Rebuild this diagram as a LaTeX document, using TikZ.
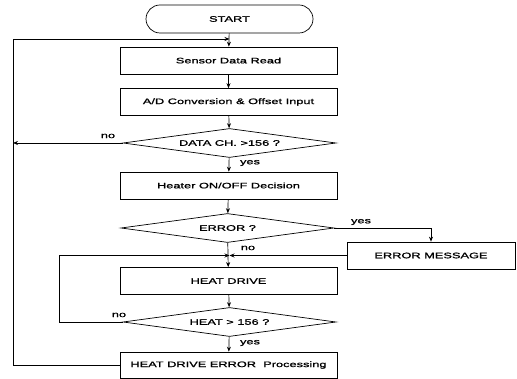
\documentclass[tikz,border=0pt]{standalone}
\usepackage{fontspec}
\usepackage{tikz}
\usetikzlibrary{shapes}
\usetikzlibrary{arrows.meta}
\newfontfamily\flowfont[FakeStretch=1.6, FakeBold=1.3]{Liberation Sans}
\tikzset{ proc_box/.style = {rectangle, draw, minimum width=217pt, minimum height=27pt, inner sep=0pt, align=center} }
\tikzset{ cond_box/.style = {diamond, draw, aspect=7, minimum width=213pt, minimum height=29pt, inner sep=0pt} }
\tikzset{ term_box/.style = {rounded rectangle, draw, minimum width=167pt, minimum height=28pt, inner sep=0pt} }
\tikzset{ lbl/.style = {inner sep=0pt} }

\begin{document}
\begin{tikzpicture}[x=1pt, y=-1pt, line width=0.7pt, >={Stealth[length=5pt,width=4pt]},
        every node/.style={font=\flowfont\fontsize{8}{9}\selectfont}]
                \useasboundingbox (0,0) rectangle (517,379);
                \node [term_box] (START) at (229.5, 19) {START};
                \node [proc_box] (SR) at (228.5, 60.5) {Sensor Data Read};
                \node [proc_box] (AD) at (228.5, 102) {A/D Conversion \& Offset Input};
                \node [cond_box] (DC) at (229.5, 143) {DATA CH. >156 ?};
                \node [proc_box] (HD) at (228.5, 185.5) {Heater ON/OFF Decision};
                \node [cond_box] (ER) at (227.5, 228) {ERROR ?};
                \node [rectangle, draw, minimum width=168pt, minimum height=27pt] (EM) at (431, 255.5) {ERROR MESSAGE};
                \node [proc_box] (DR) at (228.5, 281) {HEAT DRIVE};
                \node [cond_box] (HT) at (229.5, 322) {HEAT > 156 ?};
                \node [proc_box, minimum height=26pt] (PE) at (228.5, 365) {HEAT DRIVE ERROR\ \ Processing};
                \coordinate (top) at (229.5, 39);
                \coordinate (mid) at (229.5, 255.5);
                \coordinate (outer) at (13, 39);
                \coordinate (inner) at (59, 255.5);
                \draw[->] (START) to (SR);
                \draw[->] (SR) to (AD);
                \draw[->] (AD) to (DC);
                \draw[->] (DC) to (HD);
                \draw[->] (HD) to (ER);
                \draw[->] (ER) to (DR);
                \draw[->] (DR) to (HT);
                \draw[->] (HT) to (PE);
                \draw[->] (PE.west) -| (outer) -- (top);
                \draw[->] (DC.west) -- (DC.west -| outer);
                \draw[->] (ER.east) -| (EM.north);
                \draw[->] (EM.west) -- (mid);
                \draw[->] (HT.west) -| (inner) -- (mid);
                \node [lbl] (n1) at (108, 136) {no};
                \node [lbl] (y1) at (250, 163) {yes};
                \node [lbl] (y2) at (361, 222) {yes};
                \node [lbl] (n2) at (248, 248) {no};
                \node [lbl] (n3) at (119, 315) {no};
                \node [lbl] (y3) at (250, 343) {yes};
        \end{tikzpicture}
\end{document}
